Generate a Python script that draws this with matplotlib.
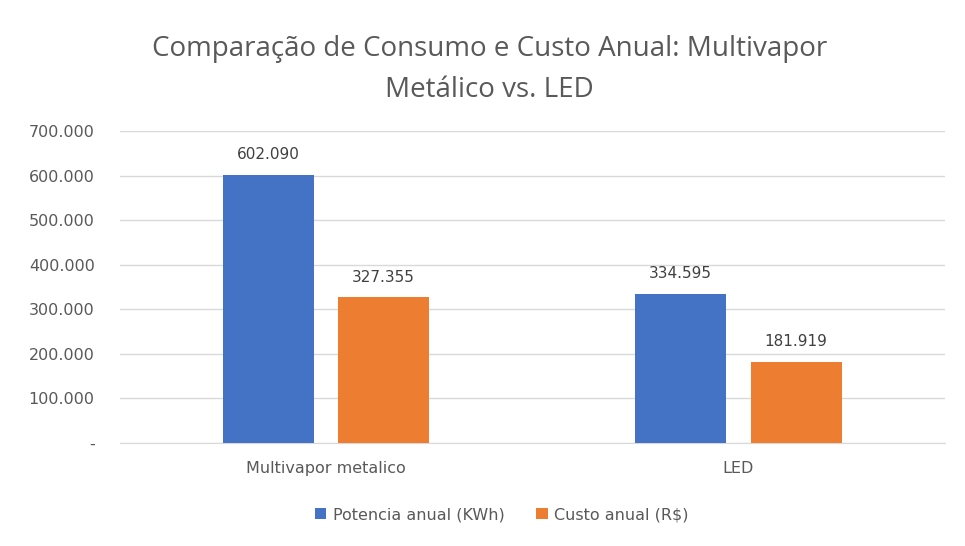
import matplotlib.pyplot as plt
import numpy as np
from matplotlib.ticker import FuncFormatter

plt.rcParams['font.family'] = ['DejaVu Sans']

categorias = ['Multivapor metalico', 'LED']
potencia_anual = [602090, 334595]
custo_anual = [327355, 181919]
rotulos_series = ['Potencia anual (KWh)', 'Custo anual (R$)']
titulo = 'Comparação de Consumo e Custo Anual: Multivapor\nMetálico vs. LED'

azul = '#4472C4'
laranja = '#ED7D31'


def fmt_milhar(v, pos=None):
    if v == 0:
        return '-'
    return '{:,.0f}'.format(v).replace(',', '.')


fig = plt.figure(figsize=(9.65, 5.46), dpi=100)
ax = fig.add_axes([0.124, 0.189, 0.855, 0.571])

x = np.arange(len(categorias))
largura = 0.22
b1 = ax.bar(x - 0.14, potencia_anual, largura, color=azul, label=rotulos_series[0], zorder=3)
b2 = ax.bar(x + 0.14, custo_anual, largura, color=laranja, label=rotulos_series[1], zorder=3)

for barras in (b1, b2):
    for b in barras:
        ax.annotate(fmt_milhar(b.get_height()), (b.get_x() + b.get_width() / 2, b.get_height()),
                    xytext=(0, 9), textcoords='offset points', ha='center', va='bottom',
                    fontsize=11, color='#404040')

ax.set_xlim(-0.5, 1.5)
ax.set_ylim(0, 700000)
ax.set_yticks(np.arange(0, 700001, 100000))
ax.yaxis.set_major_formatter(FuncFormatter(fmt_milhar))
ax.set_xticks(x)
ax.set_xticklabels(categorias)
ax.grid(axis='y', color='#D9D9D9', linewidth=1, zorder=0)
for s in ['top', 'right', 'left']:
    ax.spines[s].set_visible(False)
ax.spines['bottom'].set_color('#D9D9D9')
ax.tick_params(axis='both', length=0, labelsize=11.5, colors='#595959')
ax.tick_params(axis='x', pad=13)
ax.tick_params(axis='y', pad=18)

fig.suptitle(titulo, x=0.507, y=0.935, fontsize=20, color='#595959', linespacing=1.6,
             family=['Open Sans', 'DejaVu Sans'])

fig.legend(loc='center', bbox_to_anchor=(0.52, 0.057), ncol=2, frameon=False,
           fontsize=11.5, labelcolor='#595959', handlelength=0.7, handleheight=0.7,
           handletextpad=0.4, columnspacing=2.0)

fig.savefig('out.png', dpi=100)
